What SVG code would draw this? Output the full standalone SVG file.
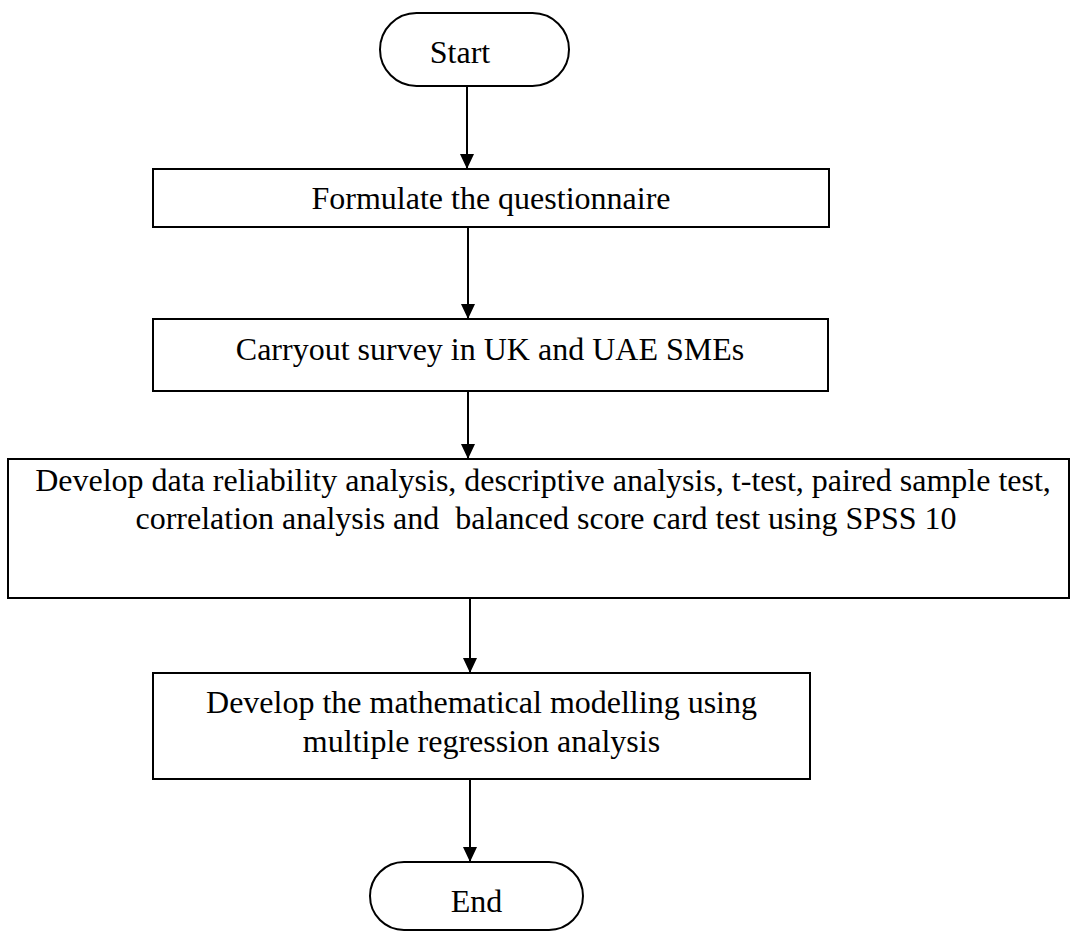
<svg xmlns="http://www.w3.org/2000/svg" width="1070" height="932" viewBox="0 0 1070 932">
  <defs>
    <!-- solid triangular head used by every flow arrow -->
    <marker id="head" markerUnits="userSpaceOnUse" markerWidth="16" markerHeight="14" refX="15" refY="7" orient="auto" viewBox="0 0 16 14">
      <path d="M0,0 L15,7 L0,14 Z" fill="#000"/>
    </marker>
  </defs>
  <style>
    .box { fill: #fff; stroke: #000; stroke-width: 2; }
    .flow { stroke: #000; stroke-width: 2; fill: none; marker-end: url(#head); }
    text { font-family: "Liberation Serif", "Times New Roman", serif; font-size: 32px; fill: #000; text-anchor: middle; }
  </style>

  <rect width="1070" height="932" fill="#fff"/>

  <g id="connectors">
    <line class="flow" x1="467" y1="86" x2="467" y2="169"/>
    <line class="flow" x1="468" y1="227" x2="468" y2="319"/>
    <line class="flow" x1="468" y1="391" x2="468" y2="459"/>
    <line class="flow" x1="470" y1="598" x2="470" y2="673"/>
    <line class="flow" x1="470" y1="779" x2="470" y2="862"/>
  </g>

  <g id="start">
    <rect class="box" x="380" y="13" width="189" height="73" rx="36.5" ry="36.5"/>
    <text x="460" y="63">Start</text>
  </g>

  <g id="formulate">
    <rect class="box" x="153" y="169" width="676" height="58"/>
    <text x="491" y="209">Formulate the questionnaire</text>
  </g>

  <g id="survey">
    <rect class="box" x="153" y="319" width="675" height="72"/>
    <text x="490" y="360">Carryout survey in UK and UAE SMEs</text>
  </g>

  <g id="analysis">
    <rect class="box" x="8" y="459" width="1061" height="139"/>
    <text x="543" y="491">Develop data reliability analysis, descriptive analysis, t-test, paired sample test,</text>
    <text x="546" y="529" xml:space="preserve">correlation analysis and  balanced score card test using SPSS 10</text>
  </g>

  <g id="modelling">
    <rect class="box" x="153" y="673" width="657" height="106"/>
    <text x="481.5" y="713">Develop the mathematical modelling using</text>
    <text x="481.5" y="752">multiple regression analysis</text>
  </g>

  <g id="end">
    <rect class="box" x="370" y="862" width="213" height="68" rx="34" ry="34"/>
    <text x="476.5" y="912">End</text>
  </g>
</svg>
